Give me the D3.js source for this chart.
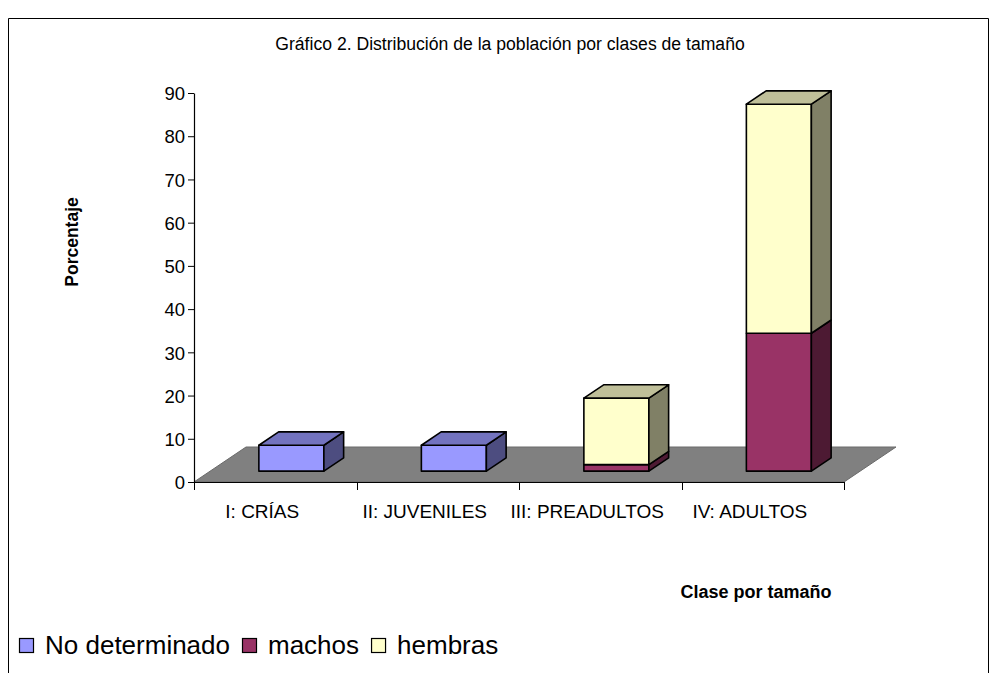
<!DOCTYPE html>
<html>
<head>
<meta charset="utf-8">
<script src="https://cdn.jsdelivr.net/npm/d3@7/dist/d3.min.js"></script>
<style>
  body { margin: 0; background: #fff; }
  text { font-family: "Liberation Sans", Arial, sans-serif; fill: #000; }
</style>
</head>
<body>
<figure id="chart" style="margin:0"></figure>
<script>
// data
const categories = ["I: CRÍAS", "II: JUVENILES", "III: PREADULTOS", "IV: ADULTOS"];
const seriesNames = ["No determinado", "machos", "hembras"];
const noDeterminado = [6.0, 6.0, 0, 0];
const machos = [0, 0, 1.5, 31.9];
const hembras = [0, 0, 15.4, 53.0];
const yTicks = [0, 10, 20, 30, 40, 50, 60, 70, 80, 90];

const width = 997, height = 673;
// face colours: front, top, side
const colors = {
  "No determinado": ["#9999ff", "#7373bf", "#4d4d80"],
  "machos": ["#993366", "#73264d", "#4d1a33"],
  "hembras": ["#ffffcc", "#bfbf99", "#808066"]
};

const svg = d3.select("#chart").append("svg")
  .attr("width", width)
  .attr("height", height);

// outer frame
svg.append("path")
  .attr("d", "M8.5," + (height + 2) + "V18.5H988.5V" + (height + 2))
  .attr("fill", "none")
  .attr("stroke", "#000")
  .attr("stroke-width", 1);

svg.append("text")
  .attr("x", 510).attr("y", 50)
  .attr("text-anchor", "middle")
  .attr("font-size", 17.6)
  .text("Gráfico 2. Distribución de la población por clases de tamaño");

const y = d3.scaleLinear().domain([0, 90]).range([482, 93]);
const x = d3.scaleBand().domain(categories).range([194, 844]);

// depth of the 3d floor and where the bars sit inside it
const depth = [52, -35];
const f0 = 0.31, f1 = 0.69;
const fx0 = depth[0] * f0, fy0 = depth[1] * f0;
const bdx = depth[0] * (f1 - f0), bdy = depth[1] * (f1 - f0);
const barW = x.bandwidth() * 0.4;

const floorPts = [
  [x.range()[0], y(0)], [x.range()[1], y(0)],
  [x.range()[1] + depth[0], y(0) + depth[1]], [x.range()[0] + depth[0], y(0) + depth[1]]
];
svg.append("polygon")
  .attr("points", floorPts.map(p => p.join(",")).join(" "))
  .attr("fill", "#808080")
  .attr("stroke", "#6a6a6a")
  .attr("stroke-width", 1);

// y axis
const yAxis = svg.append("g")
  .attr("transform", "translate(194,0)")
  .call(d3.axisLeft(y).tickValues(yTicks).tickSize(6).tickSizeOuter(0).tickPadding(3));
yAxis.select(".domain").attr("stroke", "#000").attr("stroke-width", 1.2);
yAxis.selectAll(".tick line").attr("stroke", "#000");
yAxis.selectAll(".tick text")
  .attr("font-size", 18.5)
  .attr("font-family", "Liberation Sans, Arial, sans-serif")
  .attr("dy", "0.36em");

// x axis along the front edge of the floor
const bounds = categories.map(c => x(c)).concat([x.range()[1]]);
svg.append("line")
  .attr("x1", x.range()[0]).attr("x2", x.range()[1])
  .attr("y1", y(0) + 0.5).attr("y2", y(0) + 0.5)
  .attr("stroke", "#000").attr("stroke-width", 1.2);
svg.selectAll(".xtick").data(bounds).enter().append("line")
  .attr("x1", d => Math.round(d) + 0.5).attr("x2", d => Math.round(d) + 0.5)
  .attr("y1", y(0)).attr("y2", y(0) + 8)
  .attr("stroke", "#000");
svg.selectAll(".xlabel").data(categories).enter().append("text")
  .attr("x", d => x(d) + x.bandwidth() / 2 - 13)
  .attr("y", 518)
  .attr("text-anchor", "middle")
  .attr("font-size", 19)
  .text(d => d);

// stacked 3d bars
const rows = categories.map((c, i) => ({
  cat: c, "No determinado": noDeterminado[i], "machos": machos[i], "hembras": hembras[i]
}));
const stack = d3.stack().keys(seriesNames)(rows);

const pts = a => a.map(p => p.join(",")).join(" ");
categories.forEach((c, i) => {
  const g = svg.append("g");
  const x0 = x(c) + (x.bandwidth() - barW) / 2 + fx0;
  const x1 = x0 + barW;
  const segs = stack.map(s => ({ key: s.key, lo: s[i][0], hi: s[i][1] })).filter(s => s.hi - s.lo > 0);
  segs.forEach((s, k) => {
    const yt = y(s.hi) + fy0, yb = y(s.lo) + fy0;
    const col = colors[s.key];
    g.append("polygon")
      .attr("points", pts([[x0, yb], [x1, yb], [x1, yt], [x0, yt]]))
      .attr("fill", col[0]);
    g.append("polygon")
      .attr("points", pts([[x1, yb], [x1 + bdx, yb + bdy], [x1 + bdx, yt + bdy], [x1, yt]]))
      .attr("fill", col[2]);
    if (k === segs.length - 1) {
      g.append("polygon")
        .attr("points", pts([[x0, yt], [x1, yt], [x1 + bdx, yt + bdy], [x0 + bdx, yt + bdy]]))
        .attr("fill", col[1]);
    }
  });
  g.selectAll("polygon")
    .attr("stroke", "#000")
    .attr("stroke-width", 1.6)
    .attr("stroke-linejoin", "round");
});

// axis titles
svg.append("text")
  .attr("transform", "translate(78,242) rotate(-90)")
  .attr("text-anchor", "middle")
  .attr("font-size", 17.5)
  .attr("font-weight", "bold")
  .text("Porcentaje");
svg.append("text")
  .attr("x", 756).attr("y", 598)
  .attr("text-anchor", "middle")
  .attr("font-size", 18)
  .attr("font-weight", "bold")
  .text("Clase por tamaño");

// legend
const legend = svg.append("g").attr("transform", "translate(19,654)");
let lx = 0;
seriesNames.forEach(name => {
  legend.append("rect")
    .attr("x", lx + 0.5).attr("y", -15.5)
    .attr("width", 14).attr("height", 14)
    .attr("fill", colors[name][0])
    .attr("stroke", "#000").attr("stroke-width", 1.2);
  const t = legend.append("text")
    .attr("x", lx + 26).attr("y", 0)
    .attr("font-size", 26)
    .text(name);
  lx += 26 + t.node().getComputedTextLength() + 12;
});
</script>
</body>
</html>
